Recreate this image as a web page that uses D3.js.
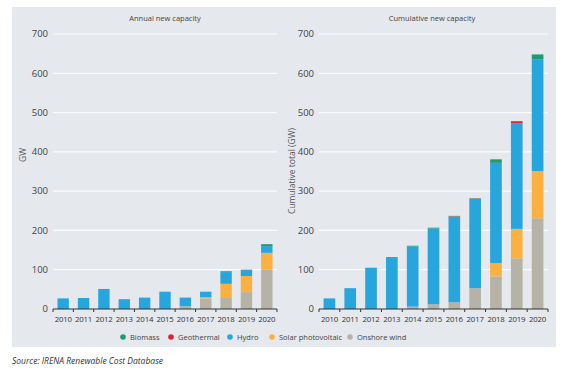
<!DOCTYPE html>
<html><head><meta charset="utf-8">
<script src="https://cdn.jsdelivr.net/npm/d3@7"></script>
<style>body{margin:0;background:#fff;}svg{display:block;font-family:"Open Sans",sans-serif;}</style>
</head><body><svg id="c" width="567" height="369"></svg>
<script>
const years = ["2010","2011","2012","2013","2014","2015","2016","2017","2018","2019","2020"];
const seriesNames = ["Onshore wind","Solar photovoltaic","Hydro","Geothermal","Biomass"];
const legendOrder = ["Biomass","Geothermal","Hydro","Solar photovoltaic","Onshore wind"];
const colors = {"Biomass":"#1f9a74","Geothermal":"#d9263d","Hydro":"#27a6de","Solar photovoltaic":"#fbb040","Onshore wind":"#b6b2a5"};
const yTicks = [0,100,200,300,400,500,600,700];
// Annual new capacity (GW)
const annualWind  = [0,0,0,0,0,0,7,27,30,43,101];
const annualSolar = [0,0,0,0,0,0,0,3,34,41,42];
const annualHydro = [27,28,51,25,29,44,22,14,30,15,17];
const annualGeo   = [0,0,0,0,0,0,0,0,0,1,0];
const annualBio   = [0,0,0,0,0,0,0,0,2,0,5];
// Cumulative new capacity (GW)
const cumWind  = [0,0,0,0,6,12,17,53,83,129,231];
const cumSolar = [0,0,0,0,0,0,0,0,34,75,120];
const cumHydro = [27,53,105,130,153,193,218,227,255,269,285];
const cumGeo   = [0,0,0,0,0,0,1,1,0,5,0];
const cumBio   = [0,0,0,2,2,2,1,1,9,0,12];

const svg = d3.select("#c");
svg.append("rect").attr("x",12).attr("y",7).attr("width",544).attr("height",340).attr("fill","#e5e8ec");

function panel(cfg){
  const rows = years.map((y,i)=>({year:y,
    "Onshore wind":cfg.wind[i],"Solar photovoltaic":cfg.solar[i],"Hydro":cfg.hydro[i],
    "Geothermal":cfg.geo[i],"Biomass":cfg.bio[i]}));
  const x = d3.scaleBand().domain(years).range([cfg.x0,cfg.x1]).paddingInner(0.44).paddingOuter(0.22);
  const y = d3.scaleLinear().domain([0,700]).range([309,34]);
  const g = svg.append("g");
  g.selectAll("line.grid").data(yTicks.filter(d=>d>0)).join("line")
    .attr("x1",cfg.x0).attr("x2",cfg.x1).attr("y1",d=>y(d)).attr("y2",d=>y(d))
    .attr("stroke","#fbfcfd").attr("stroke-width",1.2);
  g.selectAll("text.yl").data(yTicks).join("text")
    .attr("x",cfg.x0-5).attr("y",d=>y(d)).attr("dy","0.35em").attr("text-anchor","end")
    .attr("font-size",9.5).attr("fill","#444").text(d=>d);
  const stack = d3.stack().keys(seriesNames)(rows);
  g.selectAll("g.s").data(stack).join("g").attr("fill",d=>colors[d.key])
    .selectAll("rect").data(d=>d).join("rect")
    .attr("x",d=>x(d.data.year)).attr("width",x.bandwidth())
    .attr("y",d=>y(d[1])).attr("height",d=>Math.max(0,y(d[0])-y(d[1])));
  const ax = g.append("g").attr("transform","translate(0,309)");
  ax.append("line").attr("x1",cfg.x0).attr("x2",cfg.x1).attr("stroke","#333").attr("stroke-width",1.2);
  const step = x.step();
  const bounds = d3.range(years.length+1).map(i=> i===0?cfg.x0:(i===years.length?cfg.x1:x(years[i])-(step-x.bandwidth())/2));
  ax.selectAll("line.t").data(bounds).join("line").attr("x1",d=>d).attr("x2",d=>d).attr("y1",0).attr("y2",3).attr("stroke","#333");
  ax.selectAll("text").data(years).join("text").attr("x",d=>x(d)+x.bandwidth()/2).attr("y",13)
    .attr("text-anchor","middle").attr("font-size",7.8).attr("letter-spacing",-0.2).attr("fill","#333").text(d=>d);
  g.append("text").attr("x",cfg.tx).attr("y",21).attr("text-anchor","middle").attr("font-size",7.5).attr("fill","#444").text(cfg.title);
  g.append("text").attr("transform",`translate(${cfg.lx},${cfg.ly}) rotate(-90)`).attr("text-anchor","middle")
    .attr("font-size",8.5).attr("fill","#555").text(cfg.ylabel);
}
panel({x0:53,x1:277,wind:annualWind,solar:annualSolar,hydro:annualHydro,geo:annualGeo,bio:annualBio,
  title:"Annual new capacity",tx:165,ylabel:"GW",lx:26,ly:155});
panel({x0:319,x1:548,wind:cumWind,solar:cumSolar,hydro:cumHydro,geo:cumGeo,bio:cumBio,
  title:"Cumulative new capacity",tx:432,ylabel:"Cumulative total (GW)",lx:295,ly:171});

const lx = [123,171,230,272,350];
const lg = svg.append("g");
legendOrder.forEach((k,i)=>{
  lg.append("circle").attr("cx",lx[i]).attr("cy",337).attr("r",2.8).attr("fill",colors[k]);
  lg.append("text").attr("x",lx[i]+7).attr("y",337).attr("dy","0.35em").attr("font-size",7.5).attr("fill","#444").text(k);
});
svg.append("text").attr("x",12).attr("y",364).attr("font-size",8.5).attr("font-style","italic").attr("fill","#333")
  .text("Source: IRENA Renewable Cost Database");
</script></body></html>
